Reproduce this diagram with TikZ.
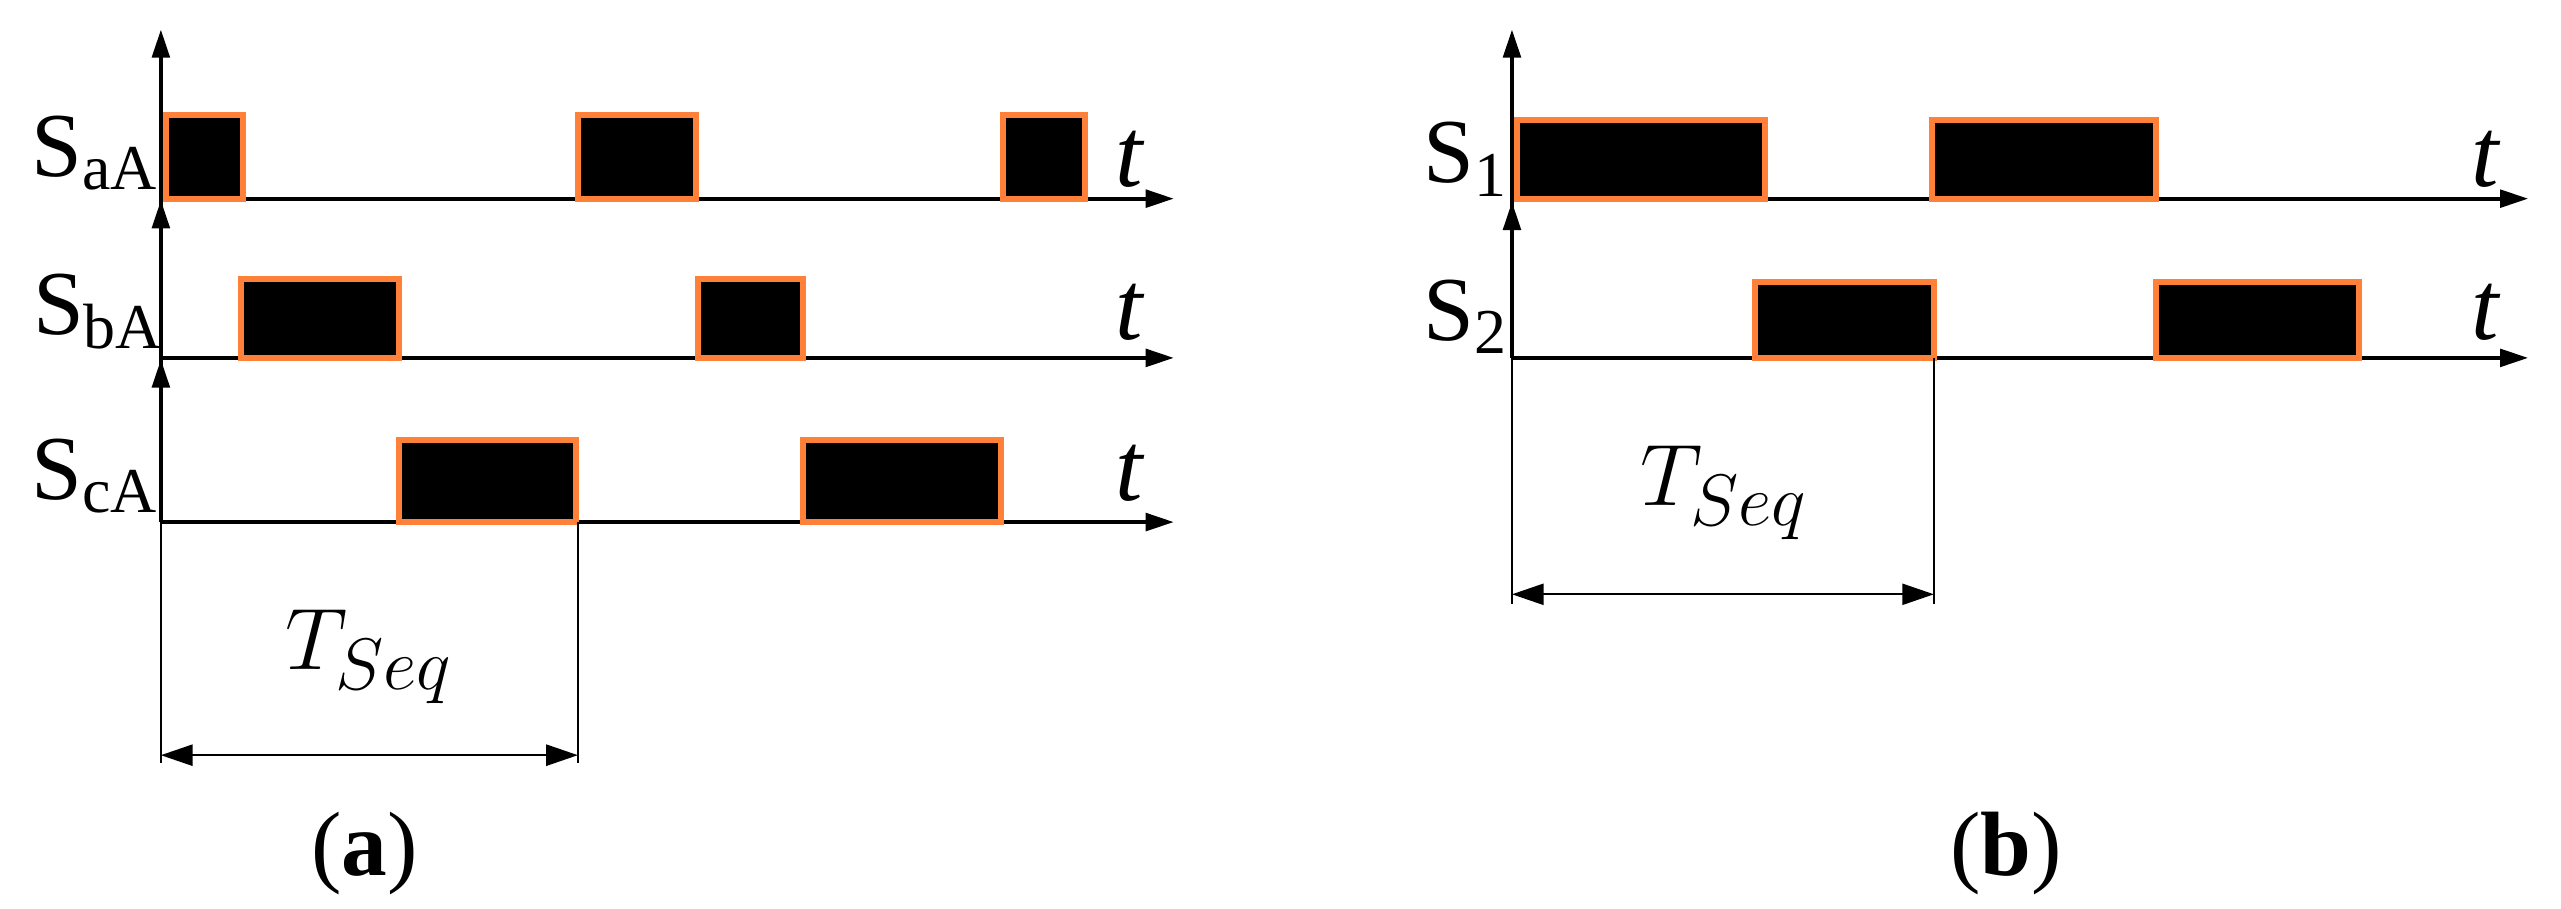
\documentclass[tikz,border=0pt]{standalone}
\usepackage{fontspec}
\setmainfont{Liberation Serif}
\usetikzlibrary{arrows.meta}
\definecolor{org}{HTML}{FF8038}
\begin{document}
\begin{tikzpicture}[x=0.01642cm,y=-0.01642cm,
  pulse/.style={fill=black,draw=org,line width=1.7pt},
  ax/.style={line width=1.1pt,-{Triangle[length=8pt,width=5pt]}},
  dim/.style={line width=0.6pt},
  lab/.style={font=\fontsize{26}{26}\selectfont},
  tl/.style={font=\fontsize{28}{28}\selectfont\itshape}]
\useasboundingbox (0,0) rectangle (1560,553.6);
% panel a
\draw[ax] (98,318) -- (98,18);
\draw[ax] (98,218) -- (98,122);
\draw[ax] (98,318) -- (98,219);
\foreach \y in {121,218,318} \draw[ax] (98,\y) -- (715,\y);
\draw[pulse] (101,70) rectangle (148,121);
\draw[pulse] (352,70) rectangle (424,121);
\draw[pulse] (611,70) rectangle (661,121);
\draw[pulse] (147,170) rectangle (243,218);
\draw[pulse] (425,170) rectangle (489,218);
\draw[pulse] (243,268) rectangle (351,318);
\draw[pulse] (489,268) rectangle (610,318);
\node[lab] (la) at (58,93) {S\textsubscript{aA}};
\node[lab] (lb) at (60,190) {S\textsubscript{bA}};
\node[lab] (lc) at (58,290) {S\textsubscript{cA}};
\foreach \y/\n in {97/ta,190/tb,288/tc} \node[tl] (\n) at (688,\y) {t};
\coordinate (a1) at (98,318); \coordinate (a2) at (98,465);
\coordinate (a3) at (352,318); \coordinate (a4) at (352,465);
\draw[dim] (a1) -- (a2); \draw[dim] (a3) -- (a4);
\draw[dim,{Triangle[length=9pt,width=6pt]}-{Triangle[length=9pt,width=6pt]}] (98,460) -- (352,460);
\node[font=\fontsize{28}{28}\selectfont] (tsa) at (225,400) {$T_{Seq}$};
\node[font=\fontsize{26}{26}\selectfont] (capa) at (222,520) {(\textbf{a})};
% panel b
\draw[ax] (921,218) -- (921,18);
\draw[ax] (921,218) -- (921,123);
\foreach \y in {121,218} \draw[ax] (921,\y) -- (1540,\y);
\draw[pulse] (924,73) rectangle (1075,121);
\draw[pulse] (1177,73) rectangle (1313,121);
\draw[pulse] (1069,172) rectangle (1178,218);
\draw[pulse] (1313,172) rectangle (1437,218);
\node[lab] (l1) at (893,97) {S\textsubscript{1}};
\node[lab] (l2) at (893,193) {S\textsubscript{2}};
\node[tl] (t1) at (1514,97) {t};
\node[tl] (t2) at (1514,190) {t};
\coordinate (b1) at (921,218); \coordinate (b2) at (921,368);
\coordinate (b3) at (1178,218); \coordinate (b4) at (1178,368);
\draw[dim] (b1) -- (b2); \draw[dim] (b3) -- (b4);
\draw[dim,{Triangle[length=9pt,width=6pt]}-{Triangle[length=9pt,width=6pt]}] (921,362) -- (1178,362);
\node[font=\fontsize{28}{28}\selectfont] (tsb) at (1050,300) {$T_{Seq}$};
\node[font=\fontsize{26}{26}\selectfont] (capb) at (1222,520) {(\textbf{b})};
\end{tikzpicture}
\end{document}
